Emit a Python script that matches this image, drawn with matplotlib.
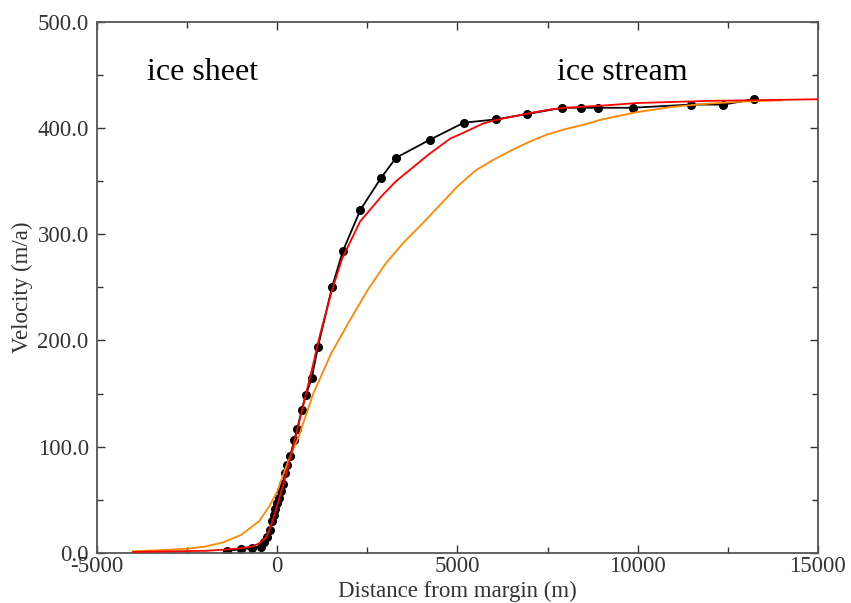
import matplotlib
matplotlib.use('Agg')
import matplotlib.pyplot as plt
from matplotlib.ticker import MultipleLocator, FormatStrFormatter

# measured velocities (black dots)
obs_x = [-1400, -1000, -700, -450, -370, -290, -210, -150, -100, -50, 0, 50, 100,
         150, 220, 280, 360, 470, 560, 680, 800, 960, 1130, 1520, 1820, 2310, 2880,
         3300, 4240, 5180, 6060, 6920, 7910, 8420, 8890, 9860, 11470, 12380, 13220]
obs_v = [2, 3.5, 4.5, 6, 10, 15, 22, 30, 36, 41, 47, 52, 58,
         65, 75, 83, 91, 106, 117, 135, 149, 165, 194, 250, 284, 323, 353,
         372, 389, 405, 408, 413, 419, 419, 419, 419, 422, 422, 427]

# red model curve
red_x = [-4000, -3000, -2000, -1500, -1000, -700, -500, -300, -150, 0, 200, 400, 600,
         800, 1000, 1100, 1200, 1500, 1800, 2300, 2900, 3300, 4200, 4800, 5200, 5700,
         6000, 7000, 7600, 8000, 9000, 10000, 12000, 15000]
red_v = [1, 1.5, 2, 3, 4.5, 6, 9, 15, 28, 45, 68, 95, 122,
         150, 178, 193, 207, 245, 277, 312, 336, 350, 375, 390, 396, 404,
         407, 414, 417.5, 419, 421, 423.5, 425.5, 427]

# orange model curve
orange_x = [-4000, -3000, -2500, -2000, -1500, -1000, -500, -200, 0, 300, 600, 1000,
            1500, 2000, 2500, 3000, 3500, 4000, 4500, 5000, 5500, 6000, 6500, 7000,
            7500, 8000, 8500, 9000, 10000, 11000, 12000, 13000, 14000]
orange_v = [1.5, 3, 4, 6, 10, 17, 30, 45, 58, 86, 110, 150,
            188, 218, 247, 272, 292, 309, 327, 345, 360, 370, 379, 387,
            394, 399, 403, 408, 415, 420, 423, 425, 426]

plt.rcParams['font.family'] = ['Liberation Serif', 'DejaVu Serif']
plt.rcParams['axes.unicode_minus'] = False

fig = plt.figure(figsize=(8.51, 6.03), dpi=100)
ax = fig.add_axes([0.114, 0.083, 0.847, 0.881])

ax.plot(obs_x, obs_v, color='black', lw=1.3, marker='o', ms=5.5, zorder=2)
ax.plot(orange_x, orange_v, color='#ff8800', lw=1.3, zorder=3)
ax.plot(red_x, red_v, color='#ff0000', lw=1.3, zorder=4)

ax.set_xlim(-5000, 15000)
ax.set_ylim(0, 500)
ax.xaxis.set_major_locator(MultipleLocator(5000))
ax.xaxis.set_minor_locator(MultipleLocator(2500))
ax.yaxis.set_major_locator(MultipleLocator(100))
ax.yaxis.set_minor_locator(MultipleLocator(50))
ax.yaxis.set_major_formatter(FormatStrFormatter('%.1f'))

ax.tick_params(which='both', direction='in', top=True, right=True,
               labelsize=16.5, colors='#333333', width=1)
ax.tick_params(which='major', length=6)
ax.tick_params(which='minor', length=4)
ax.tick_params(axis='x', pad=2)
ax.tick_params(axis='y', pad=6)
for s in ax.spines.values():
    s.set_color('#555555')
    s.set_linewidth(1.3)

ax.set_xlabel('Distance from margin (m)', fontsize=16.5, color='#333333', labelpad=3)
ax.set_ylabel('Velocity (m/a)', fontsize=16.5, color='#333333', labelpad=3)

ax.text(-3600, 452, 'ice sheet', fontsize=23, va='center', ha='left')
ax.text(7750, 452, 'ice stream', fontsize=23, va='center', ha='left')

fig.savefig('out.png', dpi=100)
